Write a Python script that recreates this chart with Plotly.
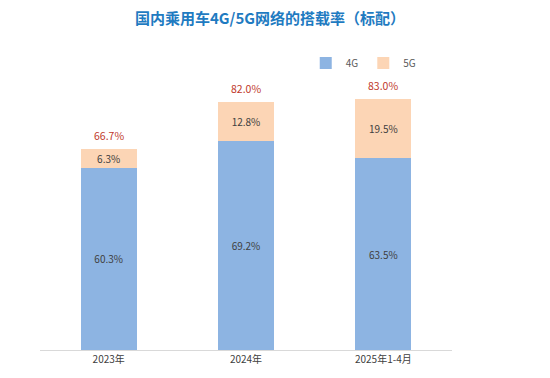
import plotly.graph_objects as go

categories = ["2023年", "2024年", "2025年1-4月"]
share_4g = [60.3, 69.2, 63.5]
share_5g = [6.3, 12.8, 19.5]
totals = [66.7, 82.0, 83.0]

font_family = "Noto Sans CJK SC, Noto Sans, sans-serif"
label_font = dict(color="#404040", size=10, family=font_family)

fig = go.Figure()
fig.add_trace(go.Bar(
    x=categories, y=share_4g, name="4G", marker_color="#8DB4E2",
    marker_line_width=0,
    text=[f"{v:.1f}%" for v in share_4g], textposition="inside",
    insidetextanchor="middle", constraintext="none",
    textfont=label_font,
))
fig.add_trace(go.Bar(
    x=categories, y=share_5g, name="5G", marker_color="#FCD5B5",
    marker_line_width=0,
    text=[f"{v:.1f}%" for v in share_5g], textposition="inside",
    insidetextanchor="middle", constraintext="none",
    textfont=label_font,
))
for c, t in zip(categories, totals):
    fig.add_annotation(
        x=c, y=t, text=f"{t:.1f}%", showarrow=False,
        yanchor="bottom", yshift=4,
        font=dict(color="#C0392B", size=10.5, family=font_family),
    )

W, H = 542, 370  # page body has an 8px margin
fig.update_layout(
    width=W, height=H,
    barmode="stack", bargap=0.59,
    paper_bgcolor="white", plot_bgcolor="white",
    margin=dict(l=32, r=98, t=40, b=28),
    title=dict(
        text="<b>国内乘用车4G/5G网络的搭载率（标配）</b>",
        x=262 / W, xanchor="center", y=1 - 11 / H, yanchor="middle",
        font=dict(size=15, color="#1F7BC1", family=font_family),
    ),
    legend=dict(
        orientation="h", x=0.645, y=(342 - 55) / 302,
        yanchor="middle", xanchor="left",
        font=dict(size=10, color="#595959", family=font_family),
        itemwidth=30, traceorder="normal", bgcolor="rgba(0,0,0,0)",
    ),
    xaxis=dict(
        showline=True, linecolor="#D9D9D9", linewidth=1,
        ticks="", tickfont=dict(size=10, color="#404040", family=font_family),
        showgrid=False,
    ),
    yaxis=dict(range=[0, 100], visible=False, showgrid=False),
    showlegend=True,
)

fig.write_html("out.html")
